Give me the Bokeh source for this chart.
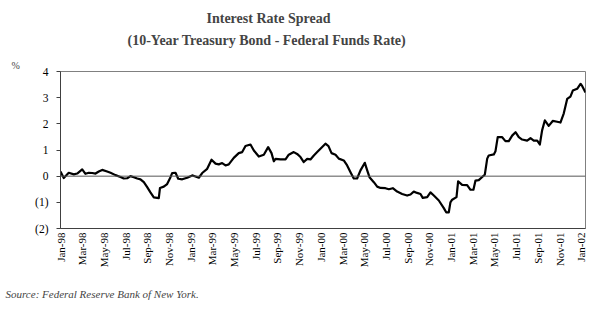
from bokeh.plotting import figure
from bokeh.models import Range1d, FixedTicker, Span, Title
from bokeh.embed import file_html
from bokeh.resources import INLINE

# months since Jan-1998 (fractional) and spread in percentage points
months = [0.00, 0.30, 0.76, 1.23, 1.54, 2.00, 2.30, 2.61, 2.92, 3.23, 3.53, 3.84, 4.30, 4.61,
          5.07, 5.53, 5.83, 6.15, 6.45, 6.76, 7.07, 7.37, 7.68, 7.99, 8.29, 8.60, 9.06, 9.17,
          9.52, 9.83, 10.14, 10.29, 10.60, 10.85, 11.22, 11.52, 11.68, 12.14, 12.44, 12.75,
          13.06, 13.52, 13.92, 14.29, 14.59, 14.90, 15.21, 15.51, 15.97, 16.43, 16.75, 17.05,
          17.51, 17.82, 18.28, 18.74, 19.14, 19.45, 19.66, 19.82, 20.28, 20.74, 21.04, 21.50,
          21.81, 22.12, 22.42, 22.74, 23.04, 23.35, 23.66, 23.96, 24.42, 24.70, 24.98, 25.35,
          25.65, 26.11, 26.42, 26.73, 27.03, 27.34, 27.65, 28.05, 28.27, 28.48, 28.88, 29.19,
          29.49, 29.95, 30.26, 30.63, 31.03, 31.49, 31.95, 32.26, 32.56, 32.87, 33.18, 33.39,
          33.80, 34.10, 34.41, 34.87, 35.33, 35.55, 35.79, 35.94, 36.10, 36.50, 36.65, 37.02,
          37.48, 37.79, 38.06, 38.25, 38.55, 38.87, 39.11, 39.33, 39.47, 39.94, 40.09, 40.30,
          40.71, 41.01, 41.32, 41.63, 41.94, 42.24, 42.55, 43.01, 43.32, 43.62, 43.94, 44.18,
          44.39, 44.64, 45.00, 45.37, 45.78, 46.08, 46.39, 46.70, 47.00, 47.22, 47.62, 47.93,
          48.08, 48.39]
spread = [0.18, -0.07, 0.13, 0.07, 0.10, 0.26, 0.09, 0.13, 0.12, 0.10, 0.18, 0.24, 0.18, 0.13,
          0.04, -0.03, -0.09, -0.08, 0.00, -0.04, -0.09, -0.12, -0.23, -0.42, -0.62, -0.81, -0.84, -0.45,
          -0.40, -0.30, -0.04, 0.12, 0.13, -0.10, -0.12, -0.08, -0.06, 0.03, -0.01, -0.06,
          0.12, 0.28, 0.63, 0.48, 0.45, 0.50, 0.41, 0.45, 0.70, 0.88, 0.92, 1.15,
          1.21, 0.98, 0.75, 0.82, 1.11, 0.88, 0.57, 0.66, 0.64, 0.64, 0.82, 0.92,
          0.85, 0.73, 0.54, 0.66, 0.64, 0.79, 0.92, 1.05, 1.24, 1.15, 0.88, 0.82,
          0.67, 0.60, 0.41, 0.15, -0.09, -0.09, 0.22, 0.51, 0.22, -0.04, -0.23, -0.40,
          -0.45, -0.46, -0.50, -0.46, -0.59, -0.68, -0.74, -0.70, -0.59, -0.64, -0.68, -0.83,
          -0.80, -0.62, -0.74, -0.93, -1.22, -1.38, -1.38, -1.00, -0.90, -0.80, -0.20, -0.33,
          -0.34, -0.52, -0.52, -0.17, -0.15, -0.03, 0.06, 0.67, 0.79, 0.83, 0.95, 1.49,
          1.49, 1.34, 1.34, 1.55, 1.68, 1.49, 1.40, 1.36, 1.45, 1.36, 1.36, 1.21,
          1.75, 2.13, 1.92, 2.11, 2.08, 2.05, 2.40, 2.95, 3.04, 3.27, 3.34, 3.53,
          3.45, 3.20]

x_tick_months = list(range(0, 49, 2))
x_tick_labels = ["Jan-98", "Mar-98", "May-98", "Jul-98", "Sep-98", "Nov-98",
                 "Jan-99", "Mar-99", "May-99", "Jul-99", "Sep-99", "Nov-99",
                 "Jan-00", "Mar-00", "May-00", "Jul-00", "Sep-00", "Nov-00",
                 "Jan-01", "Mar-01", "May-01", "Jul-01", "Sep-01", "Nov-01", "Jan-02"]
y_ticks = [-2, -1, 0, 1, 2, 3, 4]
y_tick_labels = ["(2)", "(1)", "0", "1", "2", "3", "4"]

title1 = "Interest Rate Spread"
title2 = "(10-Year Treasury Bond - Federal Funds Rate)"
unit_label = "%"
source = "Source:  Federal Reserve Bank of New York."

SERIF = "Liberation Serif"

p = figure(width=595, height=322, output_backend="svg", toolbar_location=None,
           x_range=Range1d(0, 48.39), y_range=Range1d(-2, 4),
           min_border_left=60, min_border_right=10, min_border_top=71, min_border_bottom=94)
p.background_fill_color = "white"
p.border_fill_color = "white"
p.outline_line_color = "#808080"
p.outline_line_width = 1
p.xgrid.visible = False
p.ygrid.visible = False

p.line(months, spread, line_color="black", line_width=2.2, line_join="round")
p.add_layout(Span(location=0, dimension="width", line_color="#555555", line_width=1))

xa = p.xaxis[0]
xa.ticker = FixedTicker(ticks=x_tick_months)
xa.major_label_overrides = {m: l for m, l in zip(x_tick_months, x_tick_labels)}
xa.major_label_orientation = 1.5708
xa.major_label_text_font = SERIF
xa.major_label_text_font_size = "11px"
xa.major_label_text_color = "black"
xa.major_tick_out = 0
xa.major_tick_in = 0
xa.minor_tick_out = 0
xa.minor_tick_in = 0
xa.major_label_standoff = 4
xa.axis_line_color = "#404040"

ya = p.yaxis[0]
ya.ticker = FixedTicker(ticks=y_ticks)
ya.major_label_overrides = {t: l for t, l in zip(y_ticks, y_tick_labels)}
ya.major_label_text_font = SERIF
ya.major_label_text_font_size = "11.5px"
ya.major_label_text_color = "black"
ya.major_tick_out = 4
ya.major_tick_in = 0
ya.minor_tick_out = 0
ya.minor_tick_in = 0
ya.major_label_standoff = 8
ya.axis_line_color = "#404040"
ya.major_tick_line_color = "#404040"

# side-panel texts: first added "above" sits closest to the frame
p.add_layout(Title(text=unit_label, text_font=SERIF, text_font_size="10px",
                   text_font_style="normal", align="left", offset=-49, standoff=2), "above")
p.add_layout(Title(text=title2, text_font=SERIF, text_font_size="14px",
                   text_font_style="bold", align="left", offset=67, standoff=18), "above")
p.add_layout(Title(text=title1, text_font=SERIF, text_font_size="14px",
                   text_font_style="bold", align="left", offset=146, standoff=-8), "above")
p.add_layout(Title(text=source, text_font=SERIF, text_font_size="11px",
                   text_font_style="italic", align="left", offset=-55, standoff=30), "below")

open("out.html", "w").write(file_html(p, INLINE))
